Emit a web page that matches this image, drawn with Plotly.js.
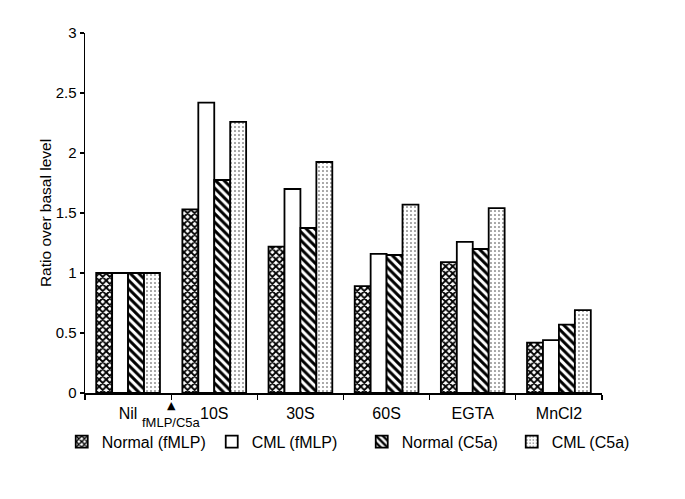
<!DOCTYPE html>
<html>
<head>
<meta charset="utf-8">
<script src="https://cdn.plot.ly/plotly-3.0.1.min.js"></script>
<style>html,body{margin:0;padding:0;background:#fff;}#chart{width:685px;height:499px;}</style>
</head>
<body>
<div id="chart"></div>
<script>
const categories = ["Nil", "10S", "30S", "60S", "EGTA", "MnCl2"];
const seriesNames = ["Normal (fMLP)", "CML (fMLP)", "Normal (C5a)", "CML (C5a)"];
const normalFMLP = [1.0, 1.53, 1.22, 0.89, 1.09, 0.42];
const cmlFMLP    = [1.0, 2.42, 1.70, 1.16, 1.26, 0.44];
const normalC5a  = [1.0, 1.775, 1.375, 1.15, 1.20, 0.57];
const cmlC5a     = [1.0, 2.26, 1.925, 1.57, 1.54, 0.69];
const yTicks = [0, 0.5, 1, 1.5, 2, 2.5, 3];
const yTickText = ["0", "0.5", "1", "1.5", "2", "2.5", "3"];

const FONT = "Liberation Sans, Arial, sans-serif";
const line = {color: "#000", width: 1.8};
const patterns = [
  {shape: "x", fgcolor: "#000", bgcolor: "#fff", size: 5, solidity: 0.6, fillmode: "replace"},
  {shape: "", fgcolor: "#000", bgcolor: "#fff"},
  {shape: "\\", fgcolor: "#000", bgcolor: "#fff", size: 6, solidity: 0.5, fillmode: "replace"},
  {shape: ".", fgcolor: "#333", bgcolor: "#fff", size: 4, solidity: 0.12, fillmode: "replace"}
];
const values = [normalFMLP, cmlFMLP, normalC5a, cmlC5a];
const data = values.map((v, i) => ({
  type: "bar",
  name: seriesNames[i],
  x: categories,
  y: v,
  marker: {color: "#fff", line: line, pattern: patterns[i]},
  hoverinfo: "x+y+name"
}));

const layout = {
  width: 685, height: 499,
  margin: {l: 85, r: 83, t: 33, b: 106},
  paper_bgcolor: "#fff", plot_bgcolor: "#fff",
  font: {family: FONT, color: "#000", size: 15},
  barmode: "group", bargap: 0.26, bargroupgap: 0,
  showlegend: true,
  legend: {orientation: "h", x: -0.045, xanchor: "left", y: -0.088, yanchor: "top",
           font: {family: FONT, size: 16, color: "#000"}, entrywidth: 105, entrywidthmode: "pixels",
           traceorder: "normal"},
  xaxis: {
    type: "category", tickson: "boundaries", ticks: "outside", ticklen: 5, tickwidth: 1.2,
    tickcolor: "#000", showline: true, linecolor: "#000", linewidth: 1.5, showgrid: false,
    tickfont: {family: FONT, size: 16, color: "#000"}, ticklabelstandoff: 5,
    zeroline: false, fixedrange: true
  },
  yaxis: {
    range: [0, 3], tickvals: yTicks, ticktext: yTickText, ticks: "outside", ticklen: 4,
    tickwidth: 1.2, tickcolor: "#000", showline: true, linecolor: "#000", linewidth: 1.5,
    showgrid: false, zeroline: false, tickfont: {family: FONT, size: 15, color: "#000"},
    title: {text: "Ratio over basal level", font: {family: FONT, size: 15.5, color: "#000"}, standoff: 0},
    fixedrange: true
  },
  annotations: [
    {x: 0.5, xref: "x", y: -0.01, yref: "paper", yanchor: "top", text: "▲", showarrow: false,
     font: {family: "DejaVu Sans", size: 11, color: "#000"}},
    {x: 0.5, xref: "x", y: -0.056, yref: "paper", yanchor: "top", text: "fMLP/C5a", showarrow: false,
     font: {family: FONT, size: 13, color: "#000"}}
  ]
};

Plotly.newPlot("chart", data, layout, {displayModeBar: false, staticPlot: true});
</script>
</body>
</html>
